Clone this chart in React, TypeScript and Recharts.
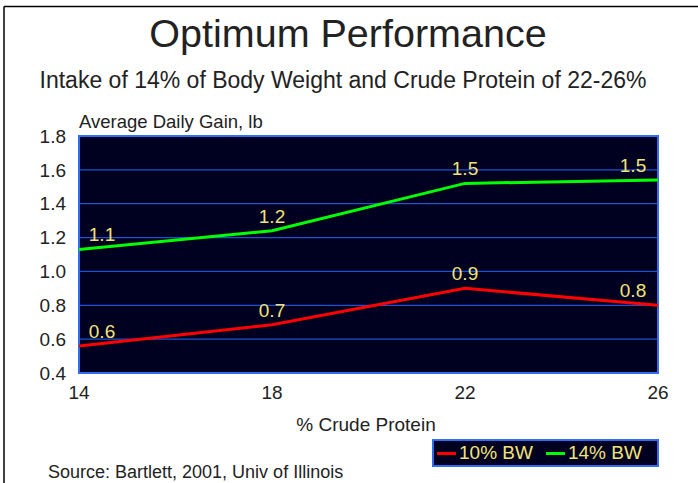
import React from "react";
import {
  LineChart,
  Line,
  XAxis,
  YAxis,
  CartesianGrid,
  ReferenceArea,
  LabelList,
  Legend,
} from "recharts";

const crudeProtein = [14, 18, 22, 26];
const bw10 = [0.56, 0.685, 0.9, 0.8];
const bw14 = [1.13, 1.24, 1.52, 1.54];
const yTicks = [0.4, 0.6, 0.8, 1.0, 1.2, 1.4, 1.6, 1.8];
const seriesNames = ["10% BW", "14% BW"];
const seriesColors = ["#ff0000", "#00ff00"];

const data = crudeProtein.map((cp, i) => ({ cp, bw10: bw10[i], bw14: bw14[i] }));

const FONT = "'Liberation Sans', Arial, sans-serif";
const LABEL_COLOR = "#f2e47a";
const BG = "#000020";
const BORDER = "#2f6ef0";

const makeLabel = (n: number) => (props: any) => {
  const { x, y, value, index } = props;
  let dx = 0;
  if (index === 0) dx = 23;
  if (index === n - 1) dx = -25;
  return (
    <text
      x={x + dx}
      y={y - 8}
      textAnchor="middle"
      fill={LABEL_COLOR}
      fontSize={19}
      fontFamily={FONT}
    >
      {Number(value).toFixed(1)}
    </text>
  );
};

const LegendBox = () => (
  <div
    style={{
      width: 227,
      height: 28,
      boxSizing: "border-box",
      border: `2px solid ${BORDER}`,
      background: BG,
      fontFamily: FONT,
      fontSize: 19,
      color: LABEL_COLOR,
      display: "flex",
      alignItems: "center",
      lineHeight: "24px",
    }}
  >
    {seriesNames.map((name, i) => (
      <div
        key={name}
        style={{ display: "flex", alignItems: "center", marginLeft: i === 0 ? 3 : 13 }}
      >
        <div style={{ width: 19, height: 3, background: seriesColors[i], marginRight: 3 }} />
        <span>{name}</span>
      </div>
    ))}
  </div>
);

export default function App() {
  const label = makeLabel(crudeProtein.length);
  return (
    <div style={{ position: "absolute", left: 0, top: 0, width: 698, height: 483, background: "#fff", overflow: "hidden" }}>
      <svg
        width={698}
        height={483}
        style={{ position: "absolute", left: 0, top: 0, pointerEvents: "none" }}
      >
        <line x1={4} y1={6.5} x2={698} y2={6.5} stroke="#000" strokeWidth={1.5} />
        <line x1={4} y1={6.5} x2={4} y2={483} stroke="#000" strokeWidth={1.5} />
        <text x={348} y={47} textAnchor="middle" fontSize={39.5} fill="#222" fontFamily={FONT}>
          Optimum Performance
        </text>
        <text x={343} y={88} textAnchor="middle" fontSize={23} fill="#222" fontFamily={FONT}>
          Intake of 14% of Body Weight and Crude Protein of 22-26%
        </text>
        <text x={79} y={128} textAnchor="start" fontSize={18.5} fill="#222" fontFamily={FONT}>
          Average Daily Gain, lb
        </text>
        <text x={366} y={431} textAnchor="middle" fontSize={19} fill="#222" fontFamily={FONT}>
          % Crude Protein
        </text>
        <text x={48} y={478} textAnchor="start" fontSize={18} fill="#222" fontFamily={FONT}>
          Source:  Bartlett, 2001, Univ of Illinois
        </text>
      </svg>
      <div style={{ position: "absolute", left: 0, top: 0 }}>
        <LineChart
          width={698}
          height={483}
          data={data}
          margin={{ top: 136, right: 40, bottom: 52, left: 0 }}
        >
          <CartesianGrid vertical={false} fill={BG} stroke="#1f52cc" strokeWidth={1.2} />
          <ReferenceArea
            x1={14}
            x2={26}
            y1={0.4}
            y2={1.8}
            fill="none"
            stroke={BORDER}
            strokeWidth={2}
            ifOverflow="visible"
          />
          <XAxis
            dataKey="cp"
            type="number"
            domain={[14, 26]}
            ticks={crudeProtein}
            axisLine={false}
            tickLine={false}
            tickMargin={7}
            tick={{ fill: "#222", fontSize: 19, fontFamily: FONT }}
            height={30}
          />
          <YAxis
            type="number"
            domain={[0.4, 1.8]}
            ticks={yTicks}
            tickFormatter={(v: number) => v.toFixed(1)}
            axisLine={false}
            tickLine={false}
            tickMargin={7}
            width={79}
            tick={{ fill: "#222", fontSize: 19, fontFamily: FONT }}
          />
          <Legend
            content={<LegendBox />}
            wrapperStyle={{ position: "absolute", left: 432, top: 439, width: 227, height: 28 }}
          />
          <Line
            dataKey="bw10"
            name={seriesNames[0]}
            stroke={seriesColors[0]}
            strokeWidth={3}
            dot={false}
            isAnimationActive={false}
          >
            <LabelList dataKey="bw10" content={label} />
          </Line>
          <Line
            dataKey="bw14"
            name={seriesNames[1]}
            stroke={seriesColors[1]}
            strokeWidth={3}
            dot={false}
            isAnimationActive={false}
          >
            <LabelList dataKey="bw14" content={label} />
          </Line>
        </LineChart>
      </div>
    </div>
  );
}
